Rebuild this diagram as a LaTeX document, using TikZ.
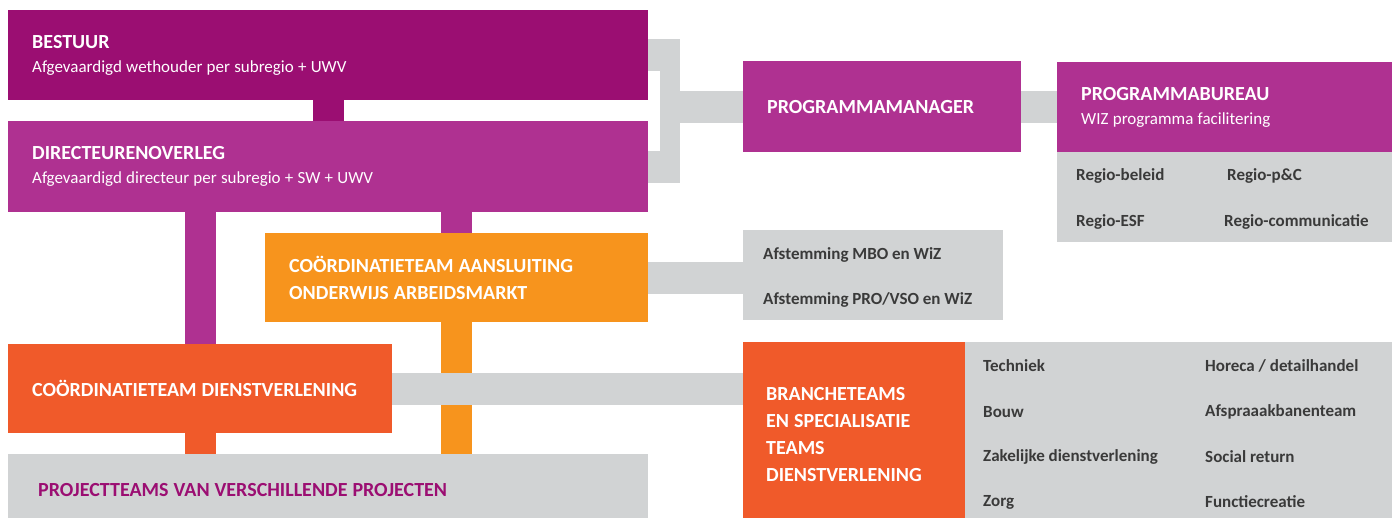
\documentclass[tikz,border=0pt]{standalone}
\usepackage{fontspec}
\setmainfont{Carlito}
\usetikzlibrary{positioning}

\definecolor{wizplum}{HTML}{9B0E72}
\definecolor{wizmagenta}{HTML}{AF3191}
\definecolor{wizorange}{HTML}{F7941D}
\definecolor{wizred}{HTML}{F05A2A}
\definecolor{wizgrey}{HTML}{D1D3D4}
\definecolor{wiztext}{HTML}{3A3A3A}

% tight word spacing, also inside aligned nodes
\newcommand{\headfont}{\bfseries\fontsize{20}{27}\selectfont\spaceskip=0.25em\relax}
\newcommand{\subfont}{\mdseries\fontsize{17}{23}\selectfont\spaceskip=0.25em\relax}
\newcommand{\itemfont}{\bfseries\fontsize{17}{21}\selectfont}

\begin{document}
\begin{tikzpicture}[x=1pt, y=-1pt,
    box/.style={anchor=north west, inner xsep=24pt, inner ysep=0pt, align=left,
      text=white, font=\headfont, execute at begin node={\headfont}},
    greybox/.style={box, fill=wizgrey},
    item/.style={anchor=west, inner sep=0pt, text=wiztext, font=\itemfont},
    link/.style={line width=32pt, wizgrey},
    stem/.style={line width=31pt}]

  \useasboundingbox (0,0) rectangle (1394,517);

  % left column: governance boxes
  \node[box, fill=wizplum, minimum height=90pt, text width=592pt] (bestuur) at (8,10)
    {BESTUUR\\[-3pt]{\subfont Afgevaardigd wethouder per subregio + UWV}};
  \node[box, fill=wizmagenta, minimum height=91pt, text width=592pt] (overleg) at (8,121)
    {DIRECTEURENOVERLEG\\[-3pt]{\subfont Afgevaardigd directeur per subregio + SW + UWV}};
  \node[box, fill=wizorange, minimum height=89pt, text width=335pt] (aansluiting) at (265,233)
    {COÖRDINATIETEAM AANSLUITING\\ONDERWIJS ARBEIDSMARKT};
  \node[box, fill=wizred, minimum height=89pt, text width=336pt] (dienst) at (8,344)
    {COÖRDINATIETEAM DIENSTVERLENING};
  \node[box, fill=wizgrey, text=wizplum, inner xsep=30pt, minimum height=72pt, text width=580pt] (projecten) at (8,454)
    {PROJECTTEAMS VAN VERSCHILLENDE PROJECTEN};

  % right column
  \node[box, fill=wizmagenta, minimum height=91pt, text width=230pt] (manager) at (743,61)
    {PROGRAMMAMANAGER};
  \node[box, fill=wizmagenta, minimum height=90pt, text width=287pt] (bureau) at (1057,62)
    {PROGRAMMABUREAU\\[-3pt]{\subfont WIZ programma facilitering}};
  \node[greybox, minimum height=90pt, text width=287pt] (taken) at (1057,152) {};
  \node[greybox, minimum height=90pt, text width=212pt] (afstemming) at (743,230) {};
  \node[box, fill=wizred, inner xsep=23pt, minimum height=185pt, text width=176pt] (branche) at (743,342)
    {BRANCHETEAMS\\EN SPECIALISATIE\\TEAMS\\DIENSTVERLENING};
  \node[greybox, minimum height=185pt, text width=379pt] (teams) at (965,342) {};

  % tasks of the programme office
  \node[item] (beleid) at (1076,176) {Regio-beleid};
  \node[item] (pc) at (1227,176) {Regio-p\&C};
  \node[item] (esf) at (1076,222) {Regio-ESF};
  \node[item] (comm) at (1224,222) {Regio-communicatie};

  % alignment with education
  \node[item] (mbo) at (763,255) {Afstemming MBO en WiZ};
  \node[item] (vso) at (763,300) {Afstemming PRO/VSO en WiZ};

  % branch teams
  \node[item] (techniek) at (983,366) {Techniek};
  \node[item] (bouw) at (983,412) {Bouw};
  \node[item] (zakelijk) at (983,457) {Zakelijke dienstverlening};
  \node[item] (zorg) at (983,502) {Zorg};
  \node[item] (horeca) at (1205,366) {Horeca / detailhandel};
  \node[item] (afspraak) at (1205,412) {Afspraaakbanenteam};
  \node[item] (social) at (1205,457) {Social return};
  \node[item] (functie) at (1205,502) {Functiecreatie};

  % vertical stems between the boxes
  \draw[stem, wizplum] (bestuur.south) -- (overleg.north);
  \draw[stem, wizmagenta] (overleg.south -| dienst.north) -- (dienst.north);
  \draw[stem, wizmagenta] (overleg.south -| aansluiting.north) -- (aansluiting.north);
  \draw[stem, wizorange] (aansluiting.south) -- (projecten.north -| aansluiting.south);
  \draw[stem, wizred] (dienst.south) -- (projecten.north -| dienst.south);

  % grey bracket towards the programme manager
  \node[fill=wizgrey, inner sep=0pt, minimum width=20pt, minimum height=142pt] (hub) at (670,111) {};
  \draw[link] (bestuur.east) -- (bestuur.east -| hub.east);
  \draw[link] (overleg.east) -- (overleg.east -| hub.east);
  \draw[link] (hub.east |- manager.west) -- (manager.west);
  \draw[link] (manager.east) -- (bureau.west |- manager.east);

  % grey links to the right
  \draw[link] (aansluiting.east) -- (aansluiting.east -| afstemming.west);
  \draw[link] (dienst.east) -- (branche.west |- dienst.east);
\end{tikzpicture}
\end{document}
